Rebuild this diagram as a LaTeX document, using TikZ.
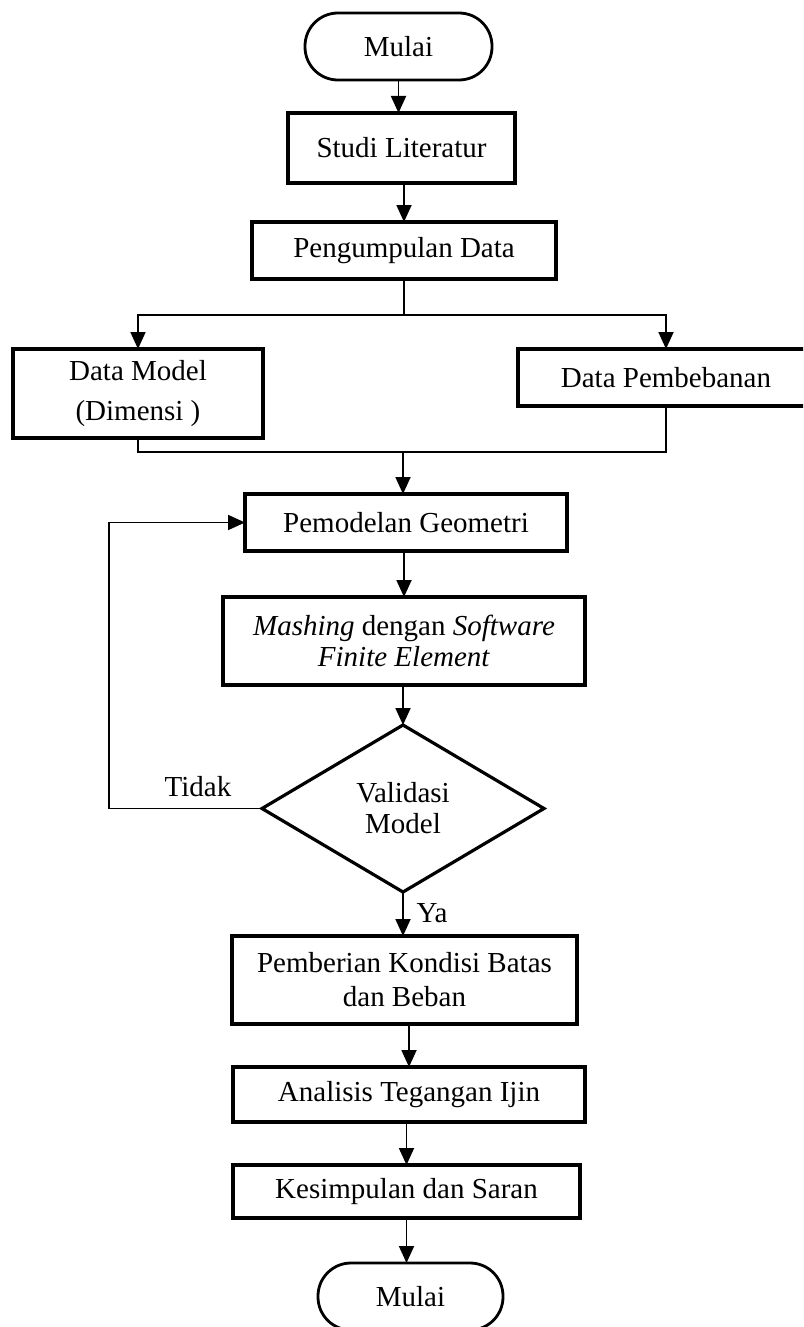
\documentclass[tikz,border=0pt]{standalone}
\usepackage{fontspec}
\setmainfont{Liberation Serif}
\usetikzlibrary{shapes.geometric,arrows.meta,calc}
\tikzset{
  box/.style={draw, line width=3.2pt, rectangle, inner sep=0pt, outer sep=0pt, align=center, font=\fontsize{29}{34}\selectfont},
  term/.style={box, line width=2.8pt, rounded corners=33pt},
  decision/.style={box, diamond},
  conn/.style={line width=1.8pt, -{Triangle[length=17pt,width=15pt]}},
  plain/.style={line width=1.8pt},
  lbl/.style={inner sep=0pt, font=\fontsize{29}{34}\selectfont}
}
\begin{document}
\begin{tikzpicture}[x=1pt,y=-1pt]
\clip (0,0) rectangle (803,1327);
\fill[white] (0,0) rectangle (803,1327);

\node[term, minimum width=187pt, minimum height=67pt] (start) at (398.5,46.5) {Mulai};
\node[box, minimum width=227pt, minimum height=70pt] (studi) at (401.5,148) {Studi Literatur};
\node[box, minimum width=304pt, minimum height=57pt] (peng) at (404,250.5) {Pengumpulan Data};
\node[box, minimum width=250pt, minimum height=89pt, font=\fontsize{29}{40}\selectfont] (dm) at (138,393.5) {Data Model\\(Dimensi )};
\node[box, minimum width=296pt, minimum height=57pt] (dp) at (666,377.5) {Data Pembebanan};
\node[box, minimum width=322pt, minimum height=57pt] (pem) at (406,522.5) {Pemodelan Geometri};
\node[box, minimum width=362pt, minimum height=88pt, font=\fontsize{29}{31}\selectfont] (mash) at (404,641) {\textit{Mashing} dengan \textit{Software}\\\textit{Finite Element}};
\node[decision, minimum width=282pt, minimum height=167pt, font=\fontsize{29}{31}\selectfont] (val) at (403,808.5) {Validasi\\Model};
\node[box, minimum width=345pt, minimum height=88pt] (pemb) at (404.5,980) {Pemberian Kondisi Batas\\dan Beban};
\node[box, minimum width=352pt, minimum height=55pt] (anal) at (409,1094.5) {Analisis Tegangan Ijin};
\node[box, minimum width=347pt, minimum height=53pt] (kes) at (406.5,1191.5) {Kesimpulan dan Saran};
\node[term, minimum width=185pt, minimum height=67pt] (end) at (410.5,1296.5) {Mulai};

\node[lbl] (tidak) at (198,787) {Tidak};
\node[lbl] (ya) at (432,913) {Ya};

\coordinate (b1) at (404,315);
\coordinate (m1) at (403,452);
\coordinate (loop) at (109,0);

\draw[conn] (start.south) -- (start.south |- studi.north);
\draw[conn] (peng.north |- studi.south) -- (peng.north);
\draw[plain] (peng.south) -- (b1);
\draw[conn] (b1) -| (dm.north);
\draw[conn] (b1) -| (dp.north);
\draw[plain] (dm.south) |- (m1);
\draw[plain] (dp.south) |- (m1);
\draw[conn] (m1) -- (m1 |- pem.north);
\draw[conn] (mash.north |- pem.south) -- (mash.north);
\draw[conn] (val.north |- mash.south) -- (val.north);
\draw[conn] (val.west) -- (loop |- val.west) -- (loop |- pem.west) -- (pem.west);
\draw[conn] (val.south) -- (val.south |- pemb.north);
\draw[conn] (anal.north |- pemb.south) -- (anal.north);
\draw[conn] (kes.north |- anal.south) -- (kes.north);
\draw[conn] (kes.south) -- (kes.south |- end.north);
\end{tikzpicture}
\end{document}
